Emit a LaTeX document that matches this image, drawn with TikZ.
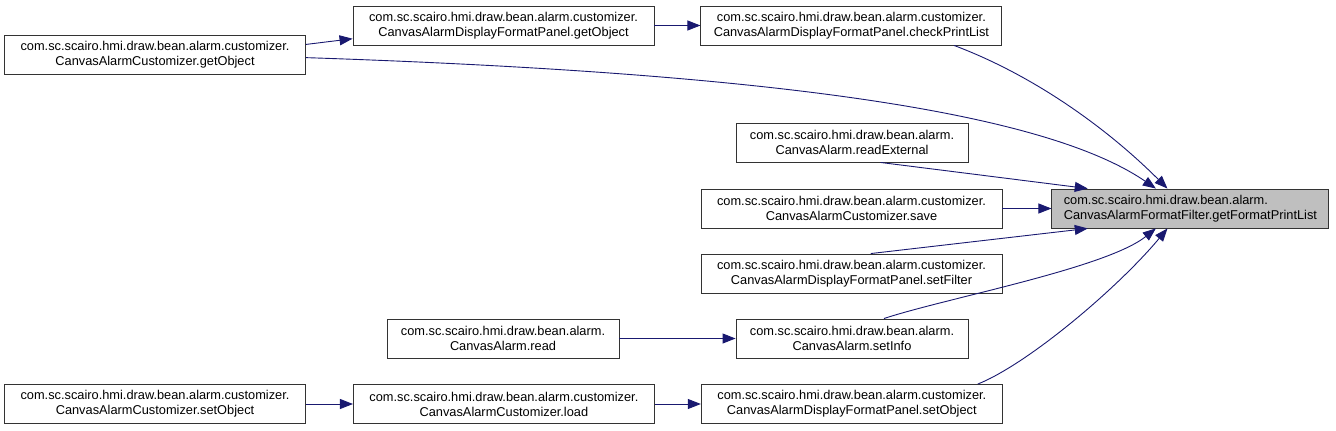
\documentclass[tikz,border=0pt]{standalone}
\usepackage{fontspec}
\setmainfont{Liberation Sans}
\usetikzlibrary{positioning,arrows.meta}
\definecolor{edgeblue}{HTML}{191970}
\definecolor{rootgray}{HTML}{BFBFBF}

\begin{document}
\begin{tikzpicture}[
    x=1pt, y=-1pt,
    block/.style={draw=black!80, line width=0.9pt, fill=white, minimum height=39pt, minimum width=301pt, inner sep=0pt, align=center, font=\fontsize{12.8}{15}\selectfont},
    narrow/.style={block, minimum width=232pt},
    arrow/.style={-{Triangle[length=13pt,width=10pt]}, edgeblue, line width=0.9pt}
]
\useasboundingbox (0,0) rectangle (1336,431);

% Left column
\node[block] (custGetObj) at (155,55) {com.sc.scairo.hmi.draw.bean.alarm.customizer.\\CanvasAlarmCustomizer.getObject};
\node[block] (custSetObj) at (155,404) {com.sc.scairo.hmi.draw.bean.alarm.customizer.\\CanvasAlarmCustomizer.setObject};

% Middle column
\node[block] (panelGetObj) at (503.5,25.5) {com.sc.scairo.hmi.draw.bean.alarm.customizer.\\CanvasAlarmDisplayFormatPanel.getObject};
\node[narrow] (alarmRead) at (503,338.5) {com.sc.scairo.hmi.draw.bean.alarm.\\CanvasAlarm.read};
\node[block, right=47pt of custSetObj] (custLoad) {com.sc.scairo.hmi.draw.bean.alarm.customizer.\\CanvasAlarmCustomizer.load};

% Right column
\node[block, right=46pt of panelGetObj] (checkList) {com.sc.scairo.hmi.draw.bean.alarm.customizer.\\CanvasAlarmDisplayFormatPanel.checkPrintList};
\node[narrow] (readExt) at (852,142.5) {com.sc.scairo.hmi.draw.bean.alarm.\\CanvasAlarm.readExternal};
\node[block] (custSave) at (851.5,208.5) {com.sc.scairo.hmi.draw.bean.alarm.customizer.\\CanvasAlarmCustomizer.save};
\node[block] (setFilter) at (851.5,273.5) {com.sc.scairo.hmi.draw.bean.alarm.customizer.\\CanvasAlarmDisplayFormatPanel.setFilter};
\node[narrow] (setInfo) at (852,338.5) {com.sc.scairo.hmi.draw.bean.alarm.\\CanvasAlarm.setInfo};
\node[block, right=46pt of custLoad] (panelSetObj) {com.sc.scairo.hmi.draw.bean.alarm.customizer.\\CanvasAlarmDisplayFormatPanel.setObject};

% Callee
\node[block, fill=rootgray, minimum width=277pt, align=left, right=49pt of custSave] (fmtList) {com.sc.scairo.hmi.draw.bean.alarm.\\CanvasAlarmFormatFilter.getFormatPrintList};

% Arrows
\draw[arrow] (custGetObj.4) -- (panelGetObj.185);
\draw[arrow] (panelGetObj) -- (checkList);
\draw[arrow] (checkList.-11) .. controls +(80,30) and +(-60,-60) .. (fmtList.139);
\draw[arrow] (custGetObj.-1) .. controls +(450,15) and +(-115,-79) .. (fmtList.150);
\draw[arrow] (readExt.-35) -- (fmtList.169);
\draw[arrow] (custSave) -- (fmtList);
\draw[arrow] (setFilter.46) -- (fmtList.-169);
\draw[arrow] (setInfo.32) .. controls +(60,-20) and +(-50,40) .. (fmtList.-150);
\draw[arrow] (alarmRead) -- (setInfo);
\draw[arrow] (panelSetObj.9) .. controls +(50,-20) and +(-50,60) .. (fmtList.-139);
\draw[arrow] (custSetObj) -- (custLoad);
\draw[arrow] (custLoad) -- (panelSetObj);
\end{tikzpicture}
\end{document}
